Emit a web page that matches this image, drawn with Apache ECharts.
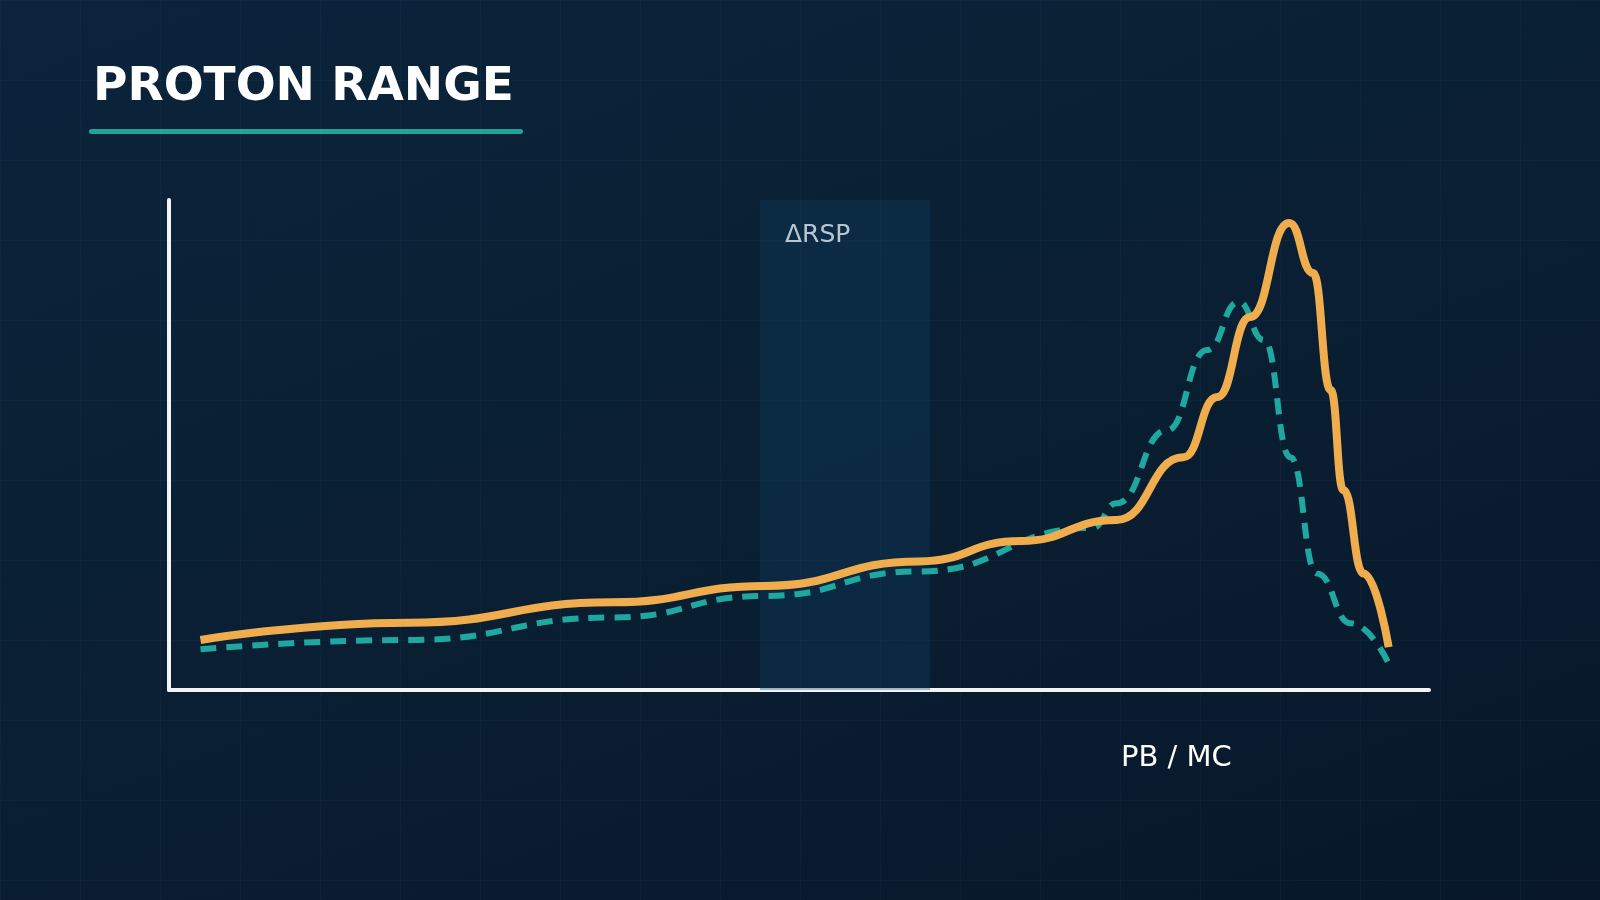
<!DOCTYPE html>
<html><head><meta charset="utf-8">
<script src="https://cdn.jsdelivr.net/npm/echarts@6/dist/echarts.min.js"></script>
<style>
html,body{margin:0;padding:0;width:1600px;height:900px;overflow:hidden;
background:linear-gradient(160deg,#0b243b 0%,#0a1f33 50%,#08172a 100%);}
#bg{position:absolute;left:0;top:0;width:1600px;height:900px;
background-image:linear-gradient(rgba(60,110,140,0.08) 1px,transparent 1px),linear-gradient(90deg,rgba(60,110,140,0.08) 1px,transparent 1px);
background-size:80px 80px;background-position:0 0;}
#c{position:absolute;left:0;top:0;width:1600px;height:900px;}
</style></head><body><div id="bg"></div><div id="c"></div>
<script>
const pbX = [2.5,19,35.2,47.3,59.5,67.6,75.2,80.5,83.2,85.8,88.9,90.8,92.2,93.2,94.8,96.8];
const pbY = [10.2,13.75,17.9,21.25,26.25,30.4,34.7,47.5,59.8,76.1,95.3,85.1,61.2,40.8,23.8,8.75];
const mcX = [2.5,19,35.2,47.3,59.5,73.3,75.2,79.2,82.4,84.9,86.9,89,91.1,93.8,96.8];
const mcY = [8.3,10.2,14.8,19.2,24.2,33.1,38.1,53,69.4,79.2,71.4,47.5,23.8,13.6,5.4];
const bandRange = [46.9,60.4];
const titleText = 'PROTON RANGE';
const bandLabel = 'ΔRSP';
const axisLabelText = 'PB / MC';

const ch = echarts.init(document.getElementById('c'));
ch.setOption({
  backgroundColor:'transparent',
  animation:false,
  grid:{left:169,right:171,top:200,bottom:210},
  xAxis:{type:'value',min:0,max:100,axisLine:{lineStyle:{color:'#f2f4f6',width:4}},axisTick:{show:false},axisLabel:{show:false},splitLine:{show:false}},
  yAxis:{type:'value',min:0,max:100,axisLine:{show:true,lineStyle:{color:'#f2f4f6',width:4}},axisTick:{show:false},axisLabel:{show:false},splitLine:{show:false}},
  graphic:[
    {type:'text',left:93,top:64,style:{text:titleText,fill:'#ffffff',font:'bold 47px "DejaVu Sans"'}},
    {type:'rect',shape:{x:89,y:129,width:434,height:5,r:2.5},style:{fill:'#1fa39a'}},
    {type:'text',left:1121,top:744,style:{text:axisLabelText,fill:'#ffffff',font:'29px "DejaVu Sans"'}}
  ],
  series:[
    {type:'line',data:mcX.map((x,i)=>[x,mcY[i]]),smooth:true,smoothMonotone:'x',symbol:'none',z:3,
     lineStyle:{color:'#1fa8a0',width:6,type:[16,10]}},
    {type:'line',data:pbX.map((x,i)=>[x,pbY[i]]),smooth:true,smoothMonotone:'x',symbol:'none',z:4,
     lineStyle:{color:'#f0ad4e',width:8}},
    {type:'line',data:[],z:5,
     markArea:{silent:true,itemStyle:{color:'rgba(14,62,98,0.35)'},
       label:{show:true,position:'insideTopLeft',color:'#b8c6d2',fontSize:25,fontFamily:'DejaVu Sans',offset:[20,18]},
       data:[[{name:bandLabel,xAxis:bandRange[0],yAxis:100},{xAxis:bandRange[1],yAxis:0}]]}}
  ]
});
</script></body></html>
